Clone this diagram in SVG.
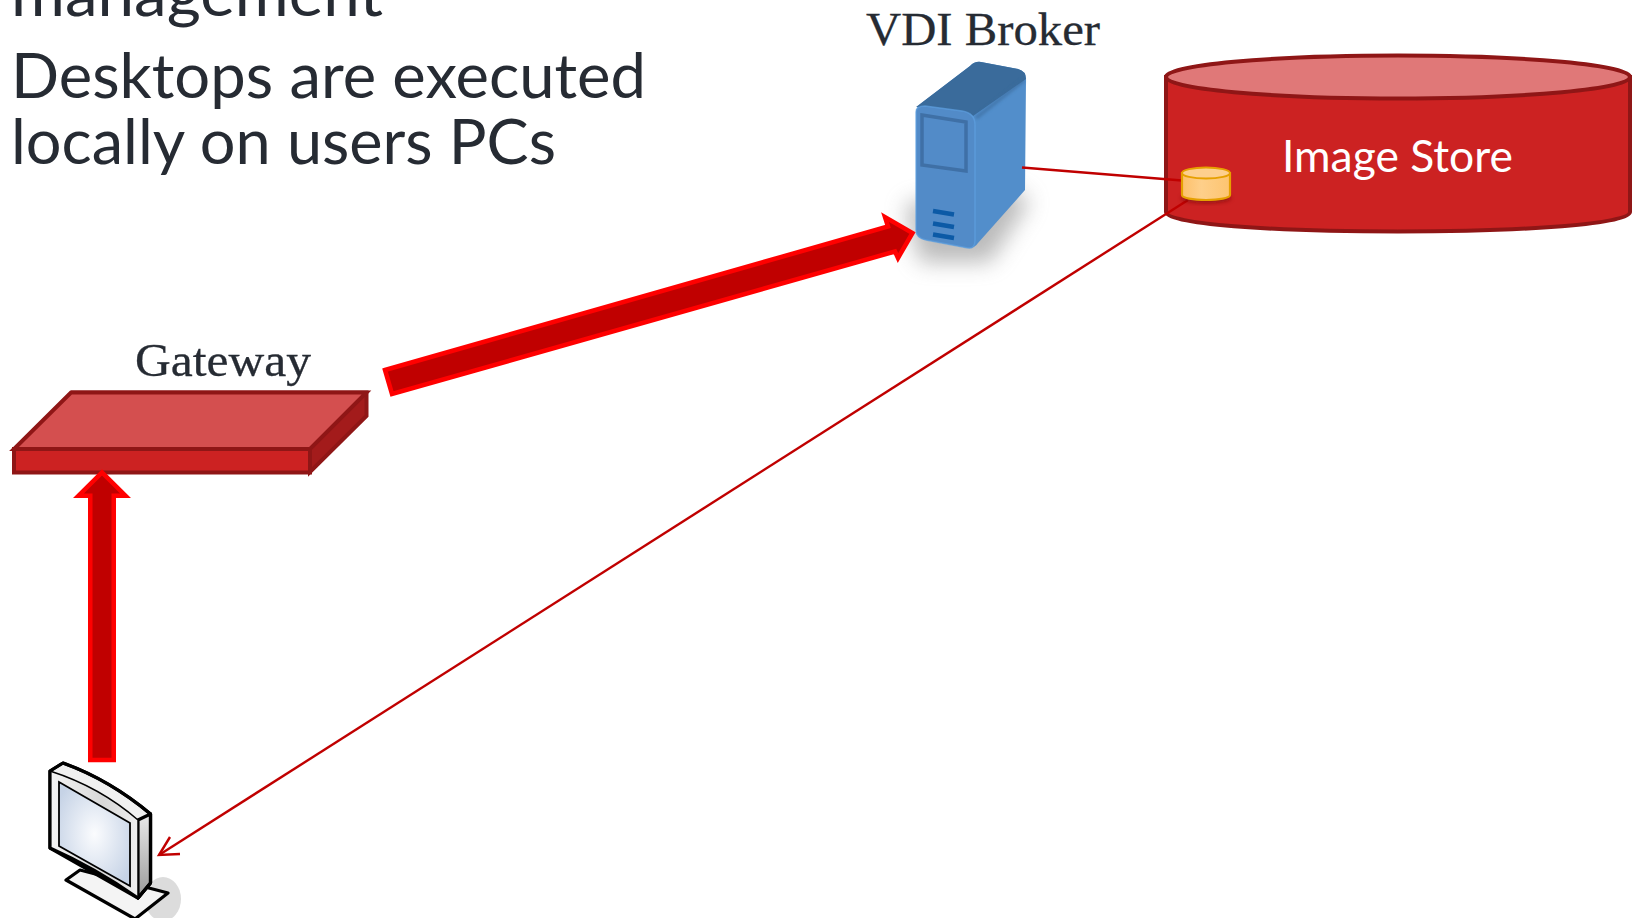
<svg xmlns="http://www.w3.org/2000/svg" width="1637" height="918" viewBox="0 0 1637 918">
<style>
.head{font-family:"Lato","Liberation Sans",sans-serif;font-size:61px;fill:#262b33}
.lab{font-family:"Liberation Serif",serif;font-size:47px;fill:#262b33;stroke:#262b33;stroke-width:.3}
.thick{fill:#c00000;stroke:#ff0000;stroke-width:4.5;stroke-linejoin:miter}
.thin{fill:none;stroke:#c00000;stroke-width:2.4}
.dk{stroke:#8f1616;stroke-width:4;stroke-linejoin:miter}
.pc{stroke:#000;stroke-width:3.2;stroke-linejoin:round}
</style>
<defs>
<filter id="b8" x="-50%" y="-50%" width="200%" height="200%"><feGaussianBlur stdDeviation="11"/></filter>
<filter id="b2" x="-30%" y="-30%" width="160%" height="160%"><feGaussianBlur stdDeviation="2"/></filter>
<filter id="b1" x="-30%" y="-30%" width="160%" height="160%"><feGaussianBlur stdDeviation="1.500"/></filter>
<linearGradient id="mini" x1="0" x2="1" y1="0" y2="0"><stop offset="0" stop-color="#fdc06a"/><stop offset=".4" stop-color="#fecf8a"/><stop offset="1" stop-color="#fdc470"/></linearGradient>
<radialGradient id="scr" cx=".5" cy=".5" r=".6"><stop offset="0" stop-color="#fbfcfe"/><stop offset="1" stop-color="#c6d3e6"/></radialGradient>
<linearGradient id="bez" x1="0" x2="1" y1="0" y2="0"><stop offset="0" stop-color="#f4f4f4"/><stop offset=".6" stop-color="#d8d8d8"/><stop offset="1" stop-color="#eeeeee"/></linearGradient>
<linearGradient id="side" x1="0" x2="0" y1="0" y2="1"><stop offset="0" stop-color="#e8e8e8"/><stop offset="1" stop-color="#9a9a9a"/></linearGradient>
</defs>
<rect width="1637" height="918" fill="#fff"/>
<g id="title">
<text class="head" x="11" y="16" textLength="372" lengthAdjust="spacingAndGlyphs">management</text>
<text class="head" x="11" y="98" textLength="635" lengthAdjust="spacingAndGlyphs">Desktops are executed</text>
<text class="head" x="11" y="164" textLength="545" lengthAdjust="spacingAndGlyphs">locally on users PCs</text>
</g>
<g id="image-store">
<path d="M1166 77V212C1166 224 1270 231.500 1398 231.500S1630 224 1630 212V77Z" fill="#cc2222" class="dk"/>
<ellipse cx="1398" cy="77" rx="232" ry="21.500" fill="#e07878" class="dk"/>
<text x="1282" y="172" textLength="231" lengthAdjust="spacingAndGlyphs" font-family="Lato,'Liberation Sans',sans-serif" font-size="44" fill="#fff">Image Store</text>
</g>
<g id="gateway">
<polygon points="71,392.500 366.500,392.500 366.500,416 310,472 310,449" fill="#a31b1b" class="dk"/>
<polygon points="71,392.500 366.500,392.500 310,449 14,449" fill="#d44f4f" class="dk"/>
<rect x="14" y="449" width="296" height="23.500" fill="#cc2222" class="dk"/>
<text class="lab" x="135" y="375.500" textLength="176" lengthAdjust="spacingAndGlyphs">Gateway</text>
</g>
<g id="vdi-broker">
<polygon points="905,205 1000,185 1030,200 990,262 920,262" fill="#777" opacity=".5" filter="url(#b8)"/>
<path d="M916 112Q916 107 923 102L970 66Q975 61 981 62L1018 69Q1026 71 1026 79L1025 190L978 243Q974 249 968 248L926 240Q916 238 916 230Z" fill="#528ecb"/>
<path d="M916 107L970 66Q975 61 981 62L1018 69Q1026 71 1026 79L973 116Q970 113 960 112Z" fill="#3a6b9b"/>
<path d="M976 118L1024 80" stroke="#3a6b9b" stroke-width="4" opacity=".6" filter="url(#b1)"/>
<path d="M916 112Q916 106 925 106L962 111Q975 113 975 125V240Q975 249 968 248L926 240Q916 238 916 230Z" fill="#528bc8" stroke="#5e9fdf" stroke-width="1.500" stroke-opacity=".7"/>
<polygon points="922,115 966,122 966,171 922,165" fill="#528bc8" stroke="#3f70a6" stroke-width="3.500"/>
<path d="M933 211L954 214.500M933 223.500L954 227M933 234.500L954 238" stroke="#0c5aa6" stroke-width="4.500"/>
<text class="lab" x="866" y="45" textLength="234" lengthAdjust="spacingAndGlyphs">VDI Broker</text>
</g>
<g id="client-pc">
<ellipse cx="163" cy="899" rx="18" ry="22" fill="#dcdcdc"/>
<polygon class="pc" points="66,880 80,870 168,893 135,919 66,880" fill="#f4f4f4"/>
<path class="pc" d="M50 771L63 763Q110 780 150.500 814V883L138 898L50 848Z" fill="#f0f0f0"/>
<path class="pc" d="M138 820L150.500 814V883L138 898Z" fill="url(#side)" stroke-width="1.500"/>
<path d="M50 771Q100 787 138 820V898Q95 868 50 848Z" fill="url(#bez)" stroke="#000" stroke-width="1.500"/>
<path class="pc" d="M50 771L63 763Q110 780 150.500 814V883L138 898Q95 868 50 848Z" fill="none"/>
<polygon points="59,782 130,823 130,886 59,846" fill="url(#scr)" stroke="#000" stroke-width="1.800"/>
</g>
<g id="connectors">
<path class="thin" d="M1022 167.500L1182 180.500"/>
<path class="thin" d="M1188 200L159 855"/>
<path class="thin" d="M170 837L159 855L180 854"/>
<polygon class="thick" points="385,370 888,226.500 885,217 912.500,233 898,258 895,251.500 392,394"/>
<polygon class="thick" points="90.250,760 90.250,495.750 78.500,495.750 102,472.500 125.500,495.750 113.750,495.750 113.750,760"/>
</g>
<g id="mini-cylinder">
<ellipse cx="1206" cy="198" rx="25" ry="5" fill="#7a1010" opacity=".7" filter="url(#b2)"/>
<path d="M1182 173V195C1182 198 1193 200 1206 200S1230 198 1230 195V173Z" fill="url(#mini)" stroke="#e6a000" stroke-width="2.200"/>
<ellipse cx="1206" cy="173" rx="24" ry="5.500" fill="#fdcf8e" stroke="#e6a000" stroke-width="2"/>
</g>
</svg>
